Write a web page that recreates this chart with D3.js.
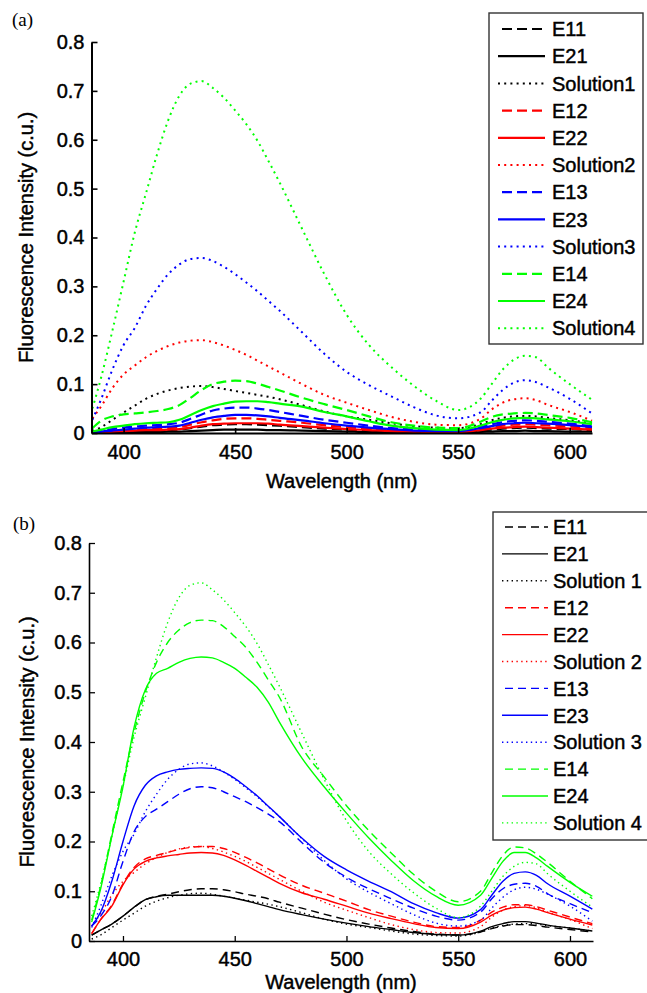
<!DOCTYPE html>
<html>
<head>
<meta charset="utf-8">
<script src="https://cdn.jsdelivr.net/npm/d3@7"></script>
<style>
  html, body { margin: 0; padding: 0; background: #fff; }
  svg { display: block; }
  text.sans { font-family: "Liberation Sans", Arial, sans-serif; fill: #000; stroke: #000; stroke-width: 0.45px; }
</style>
</head>
<body>
<svg id="fig" width="647" height="993"></svg>
<script>
// Emission wavelengths (nm) shared by every spectrum
const wavelengths = [386,390,395,400,405,410,415,420,425,430,435,440,445,450,455,460,465,470,480,490,500,510,520,530,540,550,560,565,570,575,580,585,590,600,610];

// Reference solutions (same in both panels)
const solution1 = [0.004,0.012,0.027,0.042,0.056,0.070,0.080,0.087,0.092,0.095,0.096,0.094,0.090,0.086,0.082,0.078,0.074,0.069,0.057,0.044,0.034,0.027,0.020,0.014,0.011,0.010,0.018,0.026,0.031,0.034,0.035,0.034,0.031,0.026,0.020];
const solution2 = [0.030,0.055,0.092,0.120,0.138,0.155,0.168,0.178,0.185,0.189,0.190,0.186,0.179,0.170,0.160,0.148,0.136,0.124,0.100,0.078,0.062,0.047,0.033,0.023,0.017,0.016,0.029,0.048,0.062,0.069,0.071,0.067,0.058,0.043,0.025];
const solution3 = [0.027,0.070,0.130,0.180,0.215,0.260,0.295,0.325,0.345,0.356,0.358,0.352,0.340,0.325,0.308,0.290,0.270,0.250,0.206,0.162,0.125,0.098,0.075,0.053,0.036,0.030,0.042,0.066,0.088,0.103,0.108,0.104,0.094,0.070,0.040];
const solution4 = [0.050,0.115,0.210,0.310,0.410,0.490,0.570,0.640,0.690,0.715,0.720,0.706,0.686,0.660,0.632,0.598,0.556,0.512,0.418,0.325,0.242,0.180,0.135,0.097,0.066,0.047,0.070,0.100,0.130,0.150,0.158,0.155,0.135,0.100,0.068];

// Panel (a) extracts
const aE11 = [0.001,0.001,0.002,0.003,0.004,0.005,0.005,0.006,0.007,0.010,0.013,0.016,0.017,0.018,0.018,0.017,0.016,0.015,0.012,0.009,0.007,0.005,0.004,0.003,0.002,0.002,0.005,0.007,0.009,0.010,0.011,0.010,0.009,0.008,0.006];
const aE21 = [0.000,0.001,0.001,0.001,0.002,0.002,0.002,0.003,0.003,0.004,0.005,0.006,0.007,0.007,0.007,0.007,0.006,0.006,0.005,0.004,0.003,0.002,0.002,0.001,0.001,0.001,0.002,0.003,0.004,0.004,0.005,0.004,0.004,0.003,0.003];
const aE12 = [0.001,0.002,0.004,0.005,0.007,0.008,0.009,0.010,0.012,0.017,0.022,0.026,0.029,0.030,0.030,0.029,0.027,0.025,0.021,0.016,0.012,0.009,0.006,0.004,0.003,0.003,0.008,0.012,0.015,0.017,0.018,0.017,0.016,0.013,0.010];
const aE22 = [0.001,0.001,0.003,0.004,0.005,0.006,0.006,0.007,0.008,0.011,0.015,0.018,0.019,0.020,0.020,0.020,0.019,0.017,0.014,0.011,0.008,0.006,0.004,0.003,0.002,0.002,0.006,0.009,0.011,0.012,0.013,0.012,0.011,0.009,0.007];
const aE13 = [0.002,0.004,0.008,0.011,0.013,0.015,0.016,0.018,0.021,0.029,0.038,0.046,0.050,0.052,0.052,0.050,0.047,0.043,0.035,0.027,0.021,0.015,0.010,0.007,0.005,0.005,0.012,0.018,0.022,0.025,0.026,0.025,0.023,0.019,0.014];
const aE23 = [0.001,0.003,0.005,0.007,0.009,0.011,0.012,0.013,0.015,0.021,0.027,0.032,0.035,0.037,0.037,0.036,0.034,0.031,0.026,0.020,0.015,0.011,0.008,0.005,0.004,0.004,0.010,0.014,0.018,0.020,0.021,0.020,0.019,0.016,0.012];
const aE14 = [0.010,0.025,0.034,0.038,0.040,0.042,0.045,0.049,0.057,0.072,0.088,0.100,0.105,0.107,0.106,0.101,0.094,0.087,0.072,0.059,0.047,0.034,0.022,0.015,0.011,0.010,0.023,0.033,0.038,0.040,0.041,0.040,0.037,0.031,0.022];
const aE24 = [0.003,0.007,0.012,0.015,0.018,0.020,0.021,0.022,0.027,0.037,0.047,0.055,0.060,0.064,0.065,0.065,0.063,0.060,0.054,0.043,0.034,0.024,0.015,0.010,0.007,0.006,0.015,0.022,0.027,0.030,0.031,0.030,0.028,0.024,0.018];

// Panel (b) extracts
const bE11 = [0.012,0.022,0.034,0.050,0.068,0.083,0.090,0.094,0.099,0.103,0.105,0.105,0.103,0.099,0.094,0.090,0.085,0.078,0.066,0.054,0.043,0.034,0.026,0.019,0.014,0.012,0.018,0.025,0.030,0.033,0.033,0.031,0.028,0.023,0.018];
const bE21 = [0.012,0.022,0.034,0.050,0.068,0.083,0.089,0.092,0.092,0.092,0.092,0.092,0.090,0.086,0.081,0.075,0.069,0.063,0.053,0.044,0.036,0.029,0.023,0.017,0.013,0.012,0.020,0.029,0.035,0.039,0.039,0.036,0.032,0.026,0.020];
const bE12 = [0.015,0.043,0.072,0.115,0.148,0.165,0.172,0.178,0.184,0.188,0.190,0.190,0.186,0.178,0.168,0.157,0.145,0.133,0.112,0.096,0.080,0.063,0.050,0.038,0.029,0.027,0.042,0.058,0.068,0.073,0.073,0.069,0.062,0.048,0.035];
const bE22 = [0.015,0.043,0.070,0.113,0.145,0.160,0.167,0.171,0.174,0.177,0.178,0.177,0.172,0.163,0.152,0.140,0.128,0.116,0.097,0.084,0.070,0.056,0.045,0.035,0.027,0.025,0.038,0.052,0.062,0.067,0.068,0.064,0.057,0.044,0.032];
const bE13 = [0.030,0.050,0.090,0.160,0.220,0.250,0.265,0.280,0.295,0.306,0.310,0.308,0.300,0.290,0.280,0.268,0.255,0.240,0.198,0.158,0.128,0.105,0.085,0.066,0.050,0.042,0.058,0.085,0.105,0.114,0.116,0.110,0.095,0.075,0.057];
const bE23 = [0.030,0.058,0.120,0.200,0.272,0.313,0.332,0.340,0.345,0.347,0.348,0.347,0.340,0.327,0.310,0.292,0.271,0.250,0.207,0.170,0.143,0.120,0.099,0.075,0.057,0.046,0.063,0.092,0.120,0.136,0.139,0.132,0.115,0.090,0.064];
const bE14 = [0.042,0.110,0.215,0.320,0.420,0.500,0.560,0.600,0.625,0.640,0.645,0.644,0.632,0.612,0.590,0.560,0.525,0.490,0.390,0.330,0.272,0.222,0.177,0.134,0.100,0.079,0.100,0.137,0.172,0.189,0.187,0.175,0.158,0.120,0.085];
const bE24 = [0.038,0.105,0.210,0.310,0.430,0.505,0.538,0.548,0.560,0.568,0.571,0.569,0.560,0.548,0.530,0.510,0.480,0.440,0.368,0.310,0.257,0.207,0.162,0.121,0.090,0.072,0.092,0.126,0.160,0.178,0.178,0.167,0.150,0.118,0.090];

// Legend labels and axis ticks
const legendA = ["E11","E21","Solution1","E12","E22","Solution2","E13","E23","Solution3","E14","E24","Solution4"];
const legendB = ["E11","E21","Solution 1","E12","E22","Solution 2","E13","E23","Solution 3","E14","E24","Solution 4"];
const yTicks = [0,0.1,0.2,0.3,0.4,0.5,0.6,0.7,0.8];
const xTicks = [400,450,500,550,600];

const svg = d3.select("#fig");
const colors = ["#000000","#ff0000","#0000ff","#00ff00"];
const kinds = ["dash","solid","dot"];

function panel(cfg) {
  const g = svg.append("g");
  const x = d3.scaleLinear().domain(cfg.xDomain).range([cfg.left, cfg.right]);
  const y = d3.scaleLinear().domain([0, 0.8]).range([cfg.bottom, cfg.top]);

  const styleOf = (kind) => {
    if (kind === "dash") return { w: cfg.lw, dash: cfg.dash };
    if (kind === "dot") return { w: cfg.dotw, dash: cfg.dot };
    return { w: cfg.lw, dash: null };
  };

  // spectra
  const line = d3.line()
    .x((d, i) => x(wavelengths[i]))
    .y(d => y(d))
    .curve(d3.curveMonotoneX);

  cfg.series.forEach((vals, k) => {
    const st = styleOf(kinds[k % 3]);
    g.append("path")
      .datum(vals)
      .attr("d", line)
      .attr("fill", "none")
      .attr("stroke", colors[Math.floor(k / 3)])
      .attr("stroke-width", st.w)
      .attr("stroke-dasharray", st.dash)
      .attr("stroke-linejoin", "round");
  });

  // axes
  const yAxis = d3.axisLeft(y).tickValues(yTicks)
    .tickFormat(d => d === 0 ? "0" : d3.format(".1f")(d))
    .tickSizeInner(-6).tickSizeOuter(0).tickPadding(7);
  const xAxis = d3.axisBottom(x).tickValues(xTicks)
    .tickSizeInner(-5).tickSizeOuter(0).tickPadding(cfg.xPad);

  const ya = g.append("g").attr("transform", `translate(${cfg.left},0)`).call(yAxis);
  const xa = g.append("g").attr("transform", `translate(0,${cfg.bottom})`).call(xAxis);
  [ya, xa].forEach(a => {
    a.select(".domain").attr("stroke", "#000").attr("stroke-width", cfg.axw);
    a.selectAll(".tick line").attr("stroke", "#000").attr("stroke-width", cfg.axw * 0.8);
    a.selectAll(".tick text").attr("class", "sans").attr("font-size", 20).attr("fill", "#000");
  });

  // axis titles
  g.append("text").attr("class", "sans")
    .attr("x", (cfg.left + cfg.right) / 2).attr("y", cfg.xTitleY)
    .attr("text-anchor", "middle").attr("font-size", 20)
    .text("Wavelength (nm)");
  g.append("text").attr("class", "sans")
    .attr("transform", `translate(${cfg.yTitleX},${(cfg.top + cfg.bottom) / 2}) rotate(-90)`)
    .attr("text-anchor", "middle").attr("font-size", 20)
    .text("Fluorescence Intensity (c.u.)");

  // panel tag
  g.append("text")
    .attr("x", cfg.tagX).attr("y", cfg.tagY)
    .attr("font-size", 19)
    .style("font-family", '"Liberation Serif", "Times New Roman", serif')
    .text(cfg.tag);

  // legend
  const L = cfg.legend;
  g.append("rect")
    .attr("x", L.x).attr("y", L.y).attr("width", L.w).attr("height", L.h)
    .attr("fill", "#fff").attr("stroke", "#333").attr("stroke-width", 1.4);
  cfg.labels.forEach((lab, k) => {
    const ry = L.row0 + k * L.step;
    const kind = kinds[k % 3];
    const st = styleOf(kind);
    const x0 = kind === "dash" ? L.dashX0 : L.lineX0;
    g.append("line")
      .attr("x1", x0).attr("x2", L.lineX1).attr("y1", ry).attr("y2", ry)
      .attr("stroke", colors[Math.floor(k / 3)])
      .attr("stroke-width", st.w)
      .attr("stroke-dasharray", st.dash);
    g.append("text").attr("class", "sans")
      .attr("x", L.textX).attr("y", ry).attr("dy", "0.36em")
      .attr("font-size", 20)
      .text(lab);
  });
}

panel({
  tag: "(a)", tagX: 12, tagY: 26,
  xDomain: [385.6, 610], left: 91.5, right: 592, top: 42, bottom: 433,
  xPad: 12, xTitleY: 488, yTitleX: 33,
  lw: 2.2, dotw: 2, dash: "10,5", dot: "2,4.2", axw: 2,
  series: [aE11, aE21, solution1, aE12, aE22, solution2, aE13, aE23, solution3, aE14, aE24, solution4],
  labels: legendA,
  legend: { x: 489, y: 13, w: 154, h: 331, row0: 29, step: 27.2, lineX0: 498, dashX0: 502, lineX1: 545, textX: 552 }
});

panel({
  tag: "(b)", tagX: 13, tagY: 530,
  xDomain: [384.8, 610.3], left: 89, right: 593, top: 543, bottom: 941,
  xPad: 11, xTitleY: 989, yTitleX: 34,
  lw: 1.4, dotw: 1.4, dash: "8,5", dot: "1.4,3.4", axw: 1.6,
  series: [bE11, bE21, solution1, bE12, bE22, solution2, bE13, bE23, solution3, bE14, bE24, solution4],
  labels: legendB,
  legend: { x: 493, y: 512, w: 160, h: 328, row0: 527, step: 26.9, lineX0: 502, dashX0: 505, lineX1: 548, textX: 553 }
});
</script>
</body>
</html>
